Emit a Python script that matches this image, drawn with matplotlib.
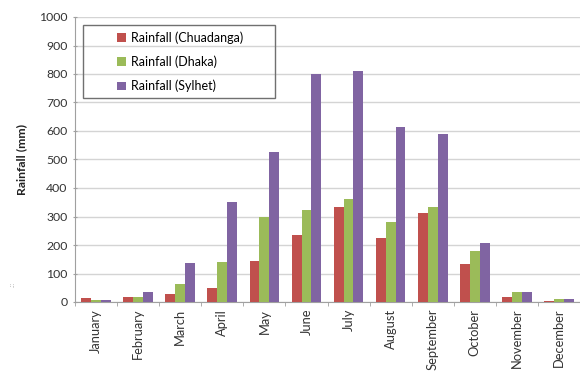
import matplotlib.pyplot as plt
import numpy as np
from matplotlib.patches import Rectangle

plt.rcParams['font.family'] = ['Lato', 'DejaVu Sans']

# Monthly rainfall (mm)
months = ['January', 'February', 'March', 'April', 'May', 'June', 'July',
          'August', 'September', 'October', 'November', 'December']
chuadanga = [13, 19, 28, 49, 145, 235, 334, 223, 311, 133, 19, 4]
dhaka = [7, 19, 63, 139, 299, 323, 361, 280, 334, 179, 34, 12]
sylhet = [7, 36, 138, 352, 525, 800, 810, 615, 589, 208, 34, 12]

series = [('Rainfall (Chuadanga)', chuadanga, '#C0504D'),
          ('Rainfall (Dhaka)', dhaka, '#9BBB59'),
          ('Rainfall (Sylhet)', sylhet, '#8064A2')]

fig = plt.figure(figsize=(5.8, 3.74), dpi=100)
ax = fig.add_axes([75/580, 1 - 302/374, 505/580, 285/374])

x = np.arange(len(months))
w = 0.235
for i, (name, vals, col) in enumerate(series):
    ax.bar(x + (i - 1) * w, vals, w, color=col, label=name, zorder=3)

ax.set_xlim(-0.5, len(months) - 0.5)
ax.set_ylim(0, 1000)
ax.set_yticks(range(0, 1001, 100))
ax.yaxis.grid(True, color='#D4D4D4', linewidth=1, zorder=0)

ax.set_xticks(x)
ax.set_xticklabels(months, rotation=90, fontsize=9.3, color='#333333')
ax.set_xticks(np.arange(-0.5, len(months), 1), minor=True)
ax.tick_params(axis='x', which='major', length=0, pad=5)
ax.tick_params(axis='x', which='minor', length=3, color='#A0A0A0')
ax.tick_params(axis='y', length=3, direction='inout', color='#A0A0A0',
               labelsize=8.8, labelcolor='#333333', pad=4)

for s in ['top', 'right']:
    ax.spines[s].set_visible(False)
for s in ['left', 'bottom']:
    ax.spines[s].set_color('#A0A0A0')

ax.set_ylabel('Rainfall (mm)', fontsize=8.8, fontweight='bold', color='#222222')
ax.yaxis.set_label_coords(-0.095, 0.5)

# legend box
ax.add_patch(Rectangle((8/505, (302-98)/285), 192/505, 73/285,
                       transform=ax.transAxes, fill=False, edgecolor='#707070',
                       linewidth=1, zorder=5, clip_on=False))
ax.legend(loc='upper left', bbox_to_anchor=(42/505, (302-31)/285), frameon=False,
          fontsize=9, handlelength=0.7, handleheight=0.7, handletextpad=0.4,
          labelspacing=0.95, borderpad=0, borderaxespad=0)

fig.text(12/580, 1 - 284/374, '.::', rotation=90, fontsize=5, color='#B0B0B0',
         ha='center', va='center')

fig.savefig('out.png', dpi=100)
